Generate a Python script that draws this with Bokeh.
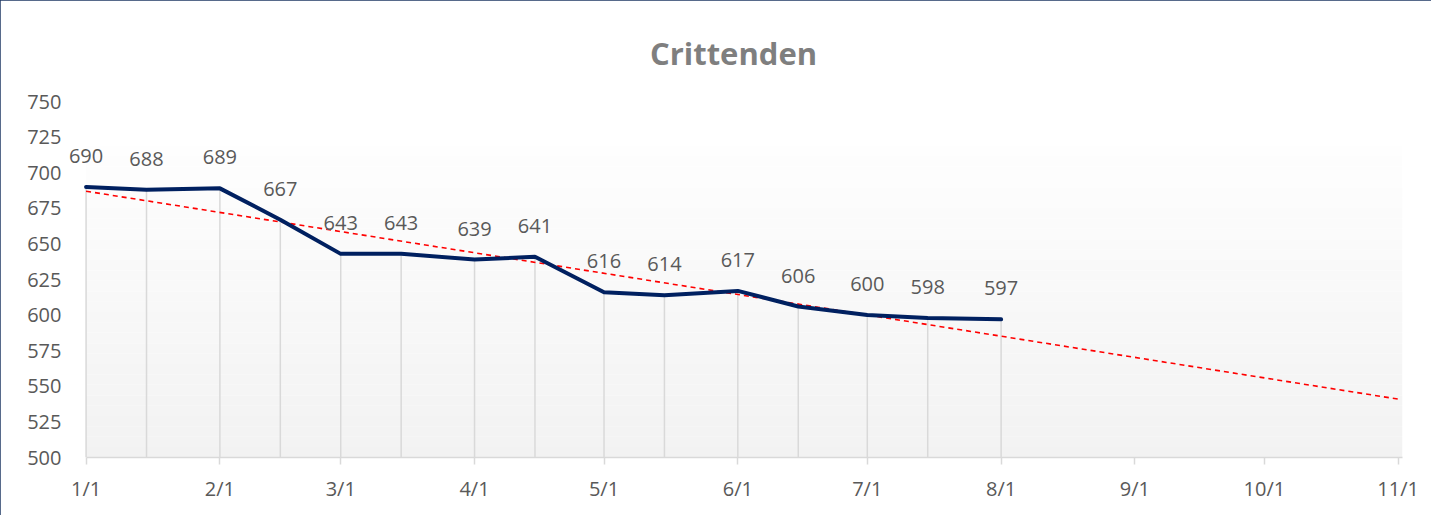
import pandas as pd
from bokeh.plotting import figure
from bokeh.models import (FixedTicker, DatetimeTickFormatter, Range1d, BoxAnnotation,
                          LabelSet, ColumnDataSource)
from bokeh.core.properties import value
from bokeh.embed import file_html
from bokeh.resources import INLINE

# ---- data ----
title_text = "Crittenden"
dates = ["2023-01-01", "2023-01-15", "2023-02-01", "2023-02-15", "2023-03-01",
         "2023-03-15", "2023-04-01", "2023-04-15", "2023-05-01", "2023-05-15",
         "2023-06-01", "2023-06-15", "2023-07-01", "2023-07-15", "2023-08-01"]
values = [690, 688, 689, 667, 643, 643, 639, 641, 616, 614, 617, 606, 600, 598, 597]
trend_dates = ["2023-01-01", "2023-11-01"]
trend_values = [687, 541]
tick_dates = ["2023-01-01", "2023-02-01", "2023-03-01", "2023-04-01", "2023-05-01",
              "2023-06-01", "2023-07-01", "2023-08-01", "2023-09-01", "2023-10-01",
              "2023-11-01"]
y_ticks = [500, 525, 550, 575, 600, 625, 650, 675, 700, 725, 750]

x = pd.to_datetime(dates)
tx = pd.to_datetime(trend_dates)
ticks = pd.to_datetime(tick_dates)
tick_ms = [t.timestamp() * 1000 for t in ticks]

x_start = pd.Timestamp("2023-01-01")
x_end = pd.Timestamp("2023-11-02")
view_start = pd.Timestamp("2022-12-27")  # room so the first label is not clipped

p = figure(width=1431, height=515, x_axis_type="datetime",
           output_backend="svg", toolbar_location=None,
           x_range=Range1d(view_start, x_end), y_range=Range1d(500, 750),
           min_border_left=64, min_border_right=29, min_border_top=101,
           min_border_bottom=58)
p.outline_line_color = None
p.background_fill_color = "white"
p.border_fill_color = "white"
p.styles = {"outline": "2px solid #1F3864", "outline-offset": "-2px"}

# title
p.title.text = title_text
p.title.align = "center"
p.title.text_font = "Open Sans"
p.title.text_font_style = "bold"
p.title.text_font_size = "31px"
p.title.text_color = "#7f7f7f"
p.title.standoff = 56

# gradient background (light) from ~719 to 500
n = 30
top_v, bot_v = 719.0, 500.0
for i in range(n):
    t0 = bot_v + (top_v - bot_v) * i / n
    t1 = bot_v + (top_v - bot_v) * (i + 1) / n
    frac = (i + 0.5) / n
    c = int(round(242 + (254 - 242) * frac))
    col = "#%02x%02x%02x" % (c, c, c)
    p.add_layout(BoxAnnotation(left=x_start, right=x_end, bottom=t0, top=t1,
                               fill_color=col, fill_alpha=1.0,
                               line_alpha=0, level="underlay"))

# drop lines
p.segment(x0=x, y0=[y_ticks[0]] * len(values), x1=x, y1=values,
          line_color="#d9d9d9", line_width=1.5)

# trend line
p.line(tx, trend_values, line_color="#ff0000", line_width=1.6, line_dash="5 4")

# main line
p.line(x, values, line_color="#002060", line_width=4, line_join="round",
       line_cap="round")

# data labels
src = ColumnDataSource(dict(x=x, y=values, t=[str(v) for v in values]))
labels = LabelSet(x="x", y="y", text="t", source=src, text_align="center",
                  text_baseline="middle", y_offset=31,
                  text_font=value("Open Sans"),
                  text_font_size=value("20px"), text_color=value("#595959"),
                  level="overlay")
p.add_layout(labels)

# axes
p.xgrid.grid_line_color = None
p.ygrid.grid_line_color = None

xa = p.xaxis[0]
xa.bounds = (x_start, x_end)
xa.ticker = FixedTicker(ticks=tick_ms)
fmt = "%-m/%-d"
xa.formatter = DatetimeTickFormatter(milliseconds=fmt, seconds=fmt, minsec=fmt,
                                     minutes=fmt, hourmin=fmt, hours=fmt, days=fmt,
                                     months=fmt, years=fmt)
xa.axis_line_color = "#d9d9d9"
xa.axis_line_width = 1.5
xa.major_tick_line_color = "#d9d9d9"
xa.major_tick_line_width = 1.5
xa.major_tick_out = 7
xa.major_tick_in = 0
xa.minor_tick_line_color = None
xa.major_label_text_font = "Open Sans"
xa.major_label_text_font_size = "20px"
xa.major_label_text_color = "#595959"
xa.major_label_standoff = 10

ya = p.yaxis[0]
ya.ticker = FixedTicker(ticks=y_ticks)
ya.axis_line_color = None
ya.major_tick_line_color = None
ya.major_tick_out = 0
ya.major_tick_in = 0
ya.minor_tick_line_color = None
ya.major_label_text_font = "Open Sans"
ya.major_label_text_font_size = "20px"
ya.major_label_text_color = "#595959"
ya.major_label_standoff = 3

open("out.html", "w").write(file_html(p, INLINE))
